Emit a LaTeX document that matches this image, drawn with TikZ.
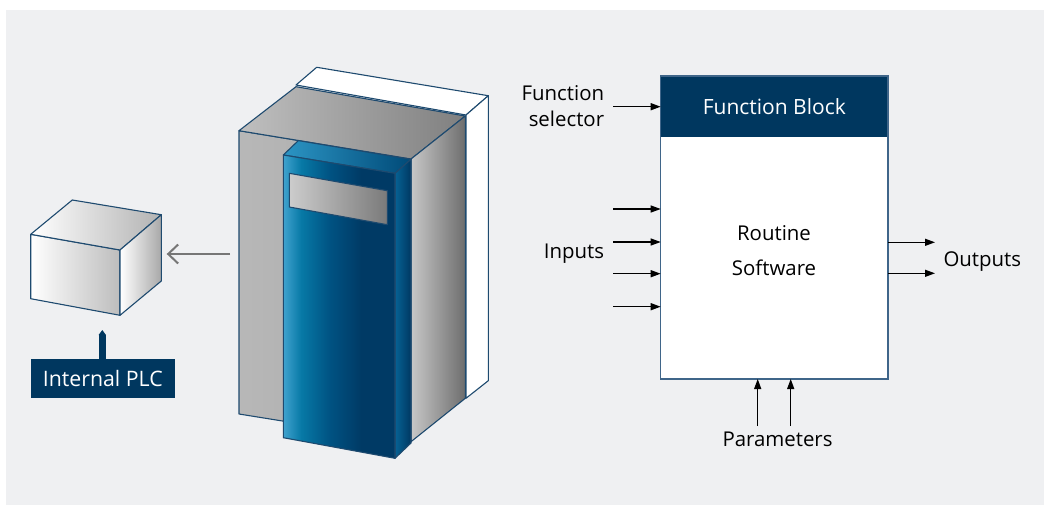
\documentclass[tikz,border=0pt]{standalone}
\usepackage{fontspec}
\setmainfont{Open Sans}
\usetikzlibrary{arrows.meta}
\definecolor{bg}{HTML}{EFF0F2}
\definecolor{navy}{HTML}{00375F}
\definecolor{edge}{HTML}{1E4A6F}
\definecolor{fbedge}{HTML}{3F6589}
\definecolor{bf1}{HTML}{40A2CE}
\definecolor{bf2}{HTML}{0779A6}
\definecolor{bf3}{HTML}{005282}
\definecolor{bf4}{HTML}{003A65}
\definecolor{arrgray}{HTML}{767676}
\pgfdeclarehorizontalshading{bluefront}{100bp}{color(0bp)=(bf1); color(25bp)=(bf1); color(33bp)=(bf2); color(46bp)=(bf3); color(60bp)=(bf4); color(100bp)=(bf4)}
\begin{document}
\begin{tikzpicture}[x=1pt,y=-1pt,
  face/.style={draw=edge, line width=1.1pt, line join=round},
  lbl/.style={font=\fontsize{20.4}{26}\selectfont, inner sep=0pt, text=black},
  arr/.style={line width=1.3pt, -{Triangle[length=10pt,width=7pt]}},
  grayarr/.style={draw=arrgray, line width=2pt, -{Straight Barb[length=10pt,width=19pt]}},
  plcconn/.style={draw=navy, line width=7pt, -{Triangle[length=5pt,width=7pt]}},
  box/.style={inner sep=0pt, outer sep=0pt}]
\useasboundingbox (0,0) rectangle (1046,506);
\fill[white] (0,0) rectangle (1046,506);
\fill[bg] (6,10) rectangle (1044,505);

% ---- back white box ----
\filldraw[face, fill=white] (296,85) -- (316.7,67.3) -- (488.3,95.7) -- (466,115) -- cycle;
\filldraw[face, fill=white] (466,115) -- (488.3,95.7) -- (488.3,380.7) -- (466,398.3) -- cycle;

% ---- gray box ----
\shadedraw[face, left color=black!28, right color=black!34] (239,130.7) -- (411,159) -- (411,441.7) -- (239,414) -- cycle;
\shadedraw[face, left color=black!25, right color=black!50] (239,130.7) -- (296,86.7) -- (465.3,116) -- (411,159) -- cycle;
\shadedraw[face, left color=black!22, right color=black!57] (411,159) -- (465.3,116) -- (465.3,398.3) -- (411,441.7) -- cycle;

% ---- blue panel ----
\shadedraw[face, left color={rgb,255:red,44;green,149;blue,196}, right color={rgb,255:red,0;green,74;blue,120}] (283.3,155) -- (298.3,140.6) -- (411,159.3) -- (395,173.3) -- cycle;
\shadedraw[face, left color={rgb,255:red,6;green,98;blue,148}, right color={rgb,255:red,0;green,56;blue,98}] (395,173.3) -- (411,159.3) -- (411,443) -- (395,458.3) -- cycle;
\shadedraw[face, shading=bluefront] (283.3,155) -- (395,173.3) -- (395,458.3) -- (283.3,437.7) -- cycle;
\shadedraw[face, left color=black!20, right color=black!52] (289.3,173.3) -- (387.3,190.7) -- (387.3,224.7) -- (289.3,207) -- cycle;

% ---- cube ----
\shadedraw[face, left color=white, right color=black!26] (30.7,234.3) -- (120,250) -- (120,315.3) -- (30.7,298.7) -- cycle;
\shadedraw[face, left color=white, right color=black!30] (30.7,234.3) -- (72.3,200) -- (161.3,214.7) -- (120,250) -- cycle;
\shadedraw[face, left color=white, right color=black!34] (120,250) -- (161.3,214.7) -- (161.3,281) -- (120,315.3) -- cycle;

% ---- arrow cabinet -> cube ----
\coordinate (cabL) at (230,254);
\coordinate (cubeR) at (166.7,254);
\draw[grayarr] (cabL) -- (cubeR);

% ---- PLC label ----
\node[box, fill=navy, minimum width=143.7pt, minimum height=39pt, text=white,
      font=\fontsize{21.3}{24}\selectfont] (plc) at (102.85,378.8) {Internal PLC};
\coordinate (plctip) at (102.3,330);
\draw[plcconn] (plc.north -| plctip) -- (plctip);

% ---- function block ----
\node[box, draw=fbedge, line width=1.2pt, fill=white, minimum width=227.3pt, minimum height=303pt] (fb) at (774.35,227.5) {};
\node[box, fill=navy, minimum width=227.3pt, minimum height=61.3pt, text=white,
      font=\fontsize{21}{24}\selectfont] (hdr) at (774.35,106.65) {Function Block};
\draw[fbedge, line width=1.2pt] (fb.north west) rectangle (fb.south east);
\node[lbl, align=center, font=\fontsize{20.4}{35}\selectfont] (rs) at (774,251) {Routine\\Software};

% function selector
\node[lbl, align=right, anchor=east] (fsl) at (604.3,106) {Function\\selector};
\coordinate (fs) at (613.3,106.7);
\draw[arr] (fs) -- (fs -| fb.west);

% inputs
\node[lbl, anchor=base east] (inl) at (604.3,258) {Inputs};
\foreach \y [count=\i] in {209,242,273.7,306.7} {
  \coordinate (in\i) at (613.3,\y);
  \draw[arr] (in\i) -- (in\i -| fb.west);
}

% outputs
\node[lbl, anchor=base west] (outl) at (943.3,266.7) {Outputs};
\foreach \y [count=\i] in {242.3,273.3} {
  \coordinate (out\i) at (935,\y);
  \draw[arr] (out\i -| fb.east) -- (out\i);
}

% parameters
\node[lbl, anchor=base] (parl) at (777.5,446.7) {Parameters};
\foreach \x [count=\i] in {757.7,790.7} {
  \coordinate (par\i) at (\x,426);
  \draw[arr] (par\i) -- (par\i |- fb.south);
}
\end{tikzpicture}
\end{document}
